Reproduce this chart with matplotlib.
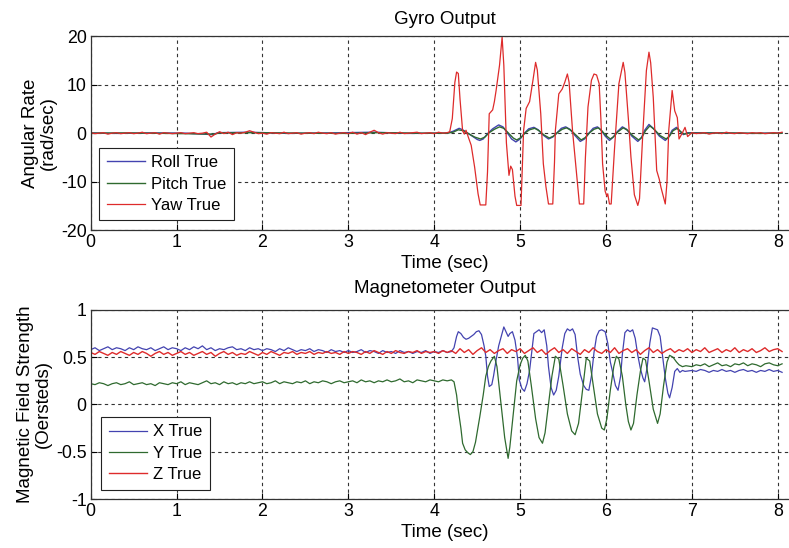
import numpy as np
import matplotlib
matplotlib.use("Agg")
import matplotlib.pyplot as plt

plt.rcParams['font.family'] = ['Liberation Sans', 'DejaVu Sans']
plt.rcParams['font.size'] = 13

# ── sample clocks for the quiet stretches (0.05 s spacing) ───────────────────
t_still = np.linspace(0.0, 4.15, 84)
t_settled = np.linspace(7.0, 8.05, 22)
t_full = np.linspace(0.0, 8.05, 162)

# ── gyro: yaw rate (rad/sec) ─────────────────────────────────────────────────
yaw_still = [
    0.1, -0.1, 0.0, 0.1, -0.2, 0.0, 0.1, -0.1, 0.0, 0.1, -0.1, 0.0, 0.2, -0.1, 0.0, 0.1, -0.2, 0.1, 0.0, -0.1,
    0.0, 0.1, -0.1, 0.0, 0.1, -0.1, 0.0, 0.2, -0.8, -0.2, 0.3, -0.1, 0.2, -0.3, 0.1, 0.0, 0.2, 0.5, 0.2, -0.1,
    0.0, -0.2, 0.1, 0.0, -0.1, 0.2, -0.1, 0.0, 0.1, -0.2, 0.0, 0.1, -0.1, 0.2, 0.0, -0.1, 0.1, -0.2, 0.0, 0.1,
    -0.1, 0.2, -0.2, 0.1, -0.3, 0.2, 0.6, 0.1, -0.2, 0.1, 0.0, -0.1, 0.2, -0.1, 0.0, 0.1, 0.2, -0.1, 0.0, 0.1,
    -0.1, 0.2, 0.0, 0.1,
]
yaw_move = [
    (4.18, 0.3), (4.21, 3.0), (4.24, 10.5), (4.26, 12.6), (4.28, 12.3), (4.30, 7.0), (4.33, 0.5),
    (4.35, -0.2), (4.37, 0.6), (4.40, -1.0), (4.43, -2.5), (4.47, -7.0), (4.51, -12.5), (4.535, -14.8),
    (4.60, -14.8), (4.62, -8.0), (4.64, 4.0), (4.68, 4.8), (4.70, 6.5), (4.72, 8.8), (4.76, 14.0),
    (4.79, 19.8), (4.81, 14.0), (4.84, -2.0), (4.87, -8.7), (4.89, -6.8), (4.91, -7.5), (4.94, -13.0),
    (4.96, -14.9), (5.01, -14.9), (5.03, -5.0), (5.04, 0.5), (5.07, 5.1), (5.11, 6.5), (5.15, 11.0),
    (5.18, 14.6), (5.20, 13.0), (5.24, 4.0), (5.27, -6.3), (5.30, -11.0), (5.33, -14.6), (5.38, -14.6),
    (5.40, -6.0), (5.41, 0.5), (5.45, 8.1), (5.49, 9.1), (5.52, 10.5), (5.55, 12.2), (5.57, 10.5),
    (5.61, 0.5), (5.65, -7.0), (5.69, -14.6), (5.74, -14.6), (5.76, -5.0), (5.79, 5.4), (5.83, 10.9),
    (5.86, 12.2), (5.89, 12.0), (5.92, 10.2), (5.94, 3.0), (5.96, -6.3), (5.99, -12.0), (6.01, -13.0),
    (6.02, -12.5), (6.04, -14.6), (6.06, -14.6), (6.10, -2.9), (6.15, 10.2), (6.20, 14.6), (6.22, 12.5),
    (6.26, 3.0), (6.29, -4.9), (6.33, -12.7), (6.37, -14.9), (6.39, -13.5), (6.43, 0.5), (6.47, 12.9),
    (6.50, 16.7), (6.52, 14.5), (6.55, 7.4), (6.59, -7.7), (6.62, -9.5), (6.64, -11.2), (6.69, -14.6),
    (6.71, -10.0), (6.73, 0.5), (6.77, 8.8), (6.80, 4.6), (6.83, 3.2), (6.85, -1.2), (6.89, 0.1),
    (6.92, 1.2), (6.95, -0.7),
]
yaw_settled = [
    0.1, -0.1, 0.0, 0.1, -0.2, 0.0, 0.1, -0.1, 0.2, 0.0, -0.1, 0.1, 0.0, -0.1, 0.1, 0.0, 0.1, -0.1, 0.0, 0.1,
    0.0, 0.2,
]

# ── gyro: roll / pitch rate (rad/sec) ────────────────────────────────────────
roll_pts = [
    (0.0, 0.05), (0.3, -0.05), (0.7, 0.05), (1.1, 0.0), (1.42, -0.3), (1.48, 0.1), (1.85, 0.2),
    (2.3, -0.05), (2.8, 0.05), (3.3, 0.2), (3.7, -0.05), (4.15, 0.0),
    (4.22, 0.4), (4.29, 1.0), (4.33, 0.7), (4.38, 0.1), (4.45, -0.7), (4.50, -1.3), (4.53, -1.5),
    (4.57, -1.2), (4.62, -0.1), (4.68, 0.9), (4.75, 1.7), (4.80, 1.3), (4.85, 0.1), (4.90, -1.2),
    (4.95, -1.8), (5.00, -1.2), (5.05, 0.0), (5.10, 0.9), (5.16, 1.2), (5.21, 0.7), (5.26, -0.3),
    (5.33, -1.2), (5.38, -0.8), (5.43, 0.1), (5.48, 1.0), (5.53, 1.3), (5.58, 0.8), (5.63, -0.3),
    (5.70, -1.7), (5.75, -1.2), (5.80, 0.0), (5.85, 1.0), (5.90, 1.3), (5.94, 0.7), (5.99, -0.6),
    (6.04, -1.5), (6.08, -0.9), (6.13, 0.3), (6.19, 1.3), (6.24, 0.8), (6.30, -0.6), (6.37, -1.7),
    (6.41, -1.0), (6.45, 0.6), (6.50, 1.8), (6.55, 1.0), (6.62, -0.6), (6.69, -1.5), (6.73, -0.8),
    (6.77, 0.6), (6.82, 1.2), (6.86, 0.4), (6.90, -0.3), (6.95, 0.1),
    (7.3, 0.05), (7.7, -0.05), (8.05, 0.05),
]
pitch_pts = [
    (0.0, 0.0), (0.4, 0.05), (0.9, -0.05), (1.44, -0.2), (1.5, 0.05), (1.9, 0.1), (2.5, 0.0),
    (3.0, -0.05), (3.35, 0.1), (3.8, 0.0), (4.15, 0.0),
    (4.22, 0.2), (4.28, 0.7), (4.34, 0.5), (4.40, -0.1), (4.47, -0.8), (4.54, -1.2), (4.59, -0.8),
    (4.64, 0.1), (4.70, 0.8), (4.76, 1.3), (4.81, 1.0), (4.87, -0.1), (4.92, -1.0), (4.96, -1.4),
    (5.01, -0.9), (5.06, 0.1), (5.11, 0.7), (5.17, 1.0), (5.22, 0.5), (5.28, -0.4), (5.34, -1.0),
    (5.39, -0.6), (5.44, 0.2), (5.49, 0.8), (5.54, 1.1), (5.59, 0.6), (5.65, -0.4), (5.71, -1.4),
    (5.76, -0.9), (5.81, 0.1), (5.86, 0.8), (5.91, 1.1), (5.95, 0.5), (6.00, -0.5), (6.05, -1.2),
    (6.09, -0.7), (6.14, 0.3), (6.20, 1.1), (6.25, 0.6), (6.31, -0.5), (6.38, -1.4), (6.42, -0.8),
    (6.46, 0.5), (6.51, 1.5), (6.56, 0.8), (6.63, -0.5), (6.70, -1.2), (6.74, -0.6), (6.78, 0.5),
    (6.83, 1.0), (6.87, 0.3), (6.91, -0.2), (6.96, 0.0),
    (7.4, 0.05), (7.8, -0.05), (8.05, 0.0),
]

# ── magnetometer X (Oersteds) ────────────────────────────────────────────────
magx_still = [
    0.58, 0.60, 0.57, 0.59, 0.61, 0.58, 0.60, 0.59, 0.57, 0.60, 0.58, 0.61, 0.59, 0.58, 0.60, 0.57, 0.59, 0.61, 0.58, 0.60,
    0.59, 0.57, 0.60, 0.58, 0.61, 0.59, 0.62, 0.58, 0.60, 0.57, 0.59, 0.58, 0.60, 0.61, 0.58, 0.59, 0.57, 0.60, 0.58, 0.59,
    0.57, 0.59, 0.58, 0.56, 0.59, 0.57, 0.60, 0.58, 0.56, 0.58, 0.57, 0.59, 0.56, 0.58, 0.57, 0.55, 0.58, 0.56, 0.57, 0.55,
    0.57, 0.55, 0.56, 0.58, 0.55, 0.57, 0.56, 0.54, 0.57, 0.55, 0.56, 0.54, 0.57, 0.55, 0.56, 0.54, 0.56, 0.55, 0.57, 0.54,
    0.56, 0.55, 0.57, 0.55,
]
magx_move = [
    (4.20, 0.56), (4.23, 0.60), (4.26, 0.72), (4.28, 0.77), (4.31, 0.75), (4.34, 0.71), (4.37, 0.69),
    (4.40, 0.70), (4.43, 0.72), (4.46, 0.74), (4.49, 0.77), (4.52, 0.78), (4.55, 0.74), (4.58, 0.62),
    (4.60, 0.51), (4.62, 0.30), (4.64, 0.19), (4.67, 0.21), (4.69, 0.30), (4.72, 0.47), (4.75, 0.62),
    (4.78, 0.72), (4.81, 0.82), (4.83, 0.78), (4.86, 0.72), (4.88, 0.75), (4.91, 0.77), (4.94, 0.68),
    (4.97, 0.49), (4.99, 0.26), (5.02, 0.17), (5.05, 0.14), (5.08, 0.22), (5.11, 0.36), (5.14, 0.60),
    (5.16, 0.75), (5.19, 0.77), (5.22, 0.79), (5.25, 0.76), (5.28, 0.79), (5.31, 0.62), (5.33, 0.40),
    (5.36, 0.18), (5.39, 0.10), (5.42, 0.15), (5.45, 0.30), (5.49, 0.60), (5.52, 0.75), (5.55, 0.80),
    (5.58, 0.78), (5.61, 0.80), (5.64, 0.74), (5.67, 0.50), (5.70, 0.32), (5.74, 0.20), (5.77, 0.16),
    (5.80, 0.15), (5.83, 0.30), (5.86, 0.55), (5.89, 0.72), (5.92, 0.78), (5.95, 0.79), (5.99, 0.77),
    (6.02, 0.65), (6.05, 0.45), (6.08, 0.33), (6.11, 0.20), (6.14, 0.15), (6.17, 0.30), (6.19, 0.53),
    (6.22, 0.76), (6.25, 0.79), (6.28, 0.77), (6.31, 0.79), (6.34, 0.70), (6.37, 0.52), (6.40, 0.38),
    (6.43, 0.28), (6.45, 0.24), (6.48, 0.40), (6.51, 0.65), (6.54, 0.81), (6.57, 0.80), (6.60, 0.79),
    (6.63, 0.72), (6.66, 0.50), (6.69, 0.28), (6.72, 0.12), (6.74, 0.07), (6.77, 0.18), (6.80, 0.35),
    (6.83, 0.38), (6.86, 0.34), (6.89, 0.36), (6.92, 0.35),
]
magx_settled = [
    0.36, 0.35, 0.37, 0.36, 0.34, 0.36, 0.35, 0.37, 0.35, 0.36, 0.34, 0.36, 0.37, 0.35, 0.36, 0.34, 0.36, 0.35, 0.37, 0.35,
    0.36, 0.34,
]

# ── magnetometer Y (Oersteds) ────────────────────────────────────────────────
magy_still = [
    0.22, 0.21, 0.23, 0.22, 0.20, 0.22, 0.23, 0.21, 0.22, 0.24, 0.21, 0.22, 0.23, 0.21, 0.22, 0.20, 0.23, 0.22, 0.21, 0.23,
    0.22, 0.24, 0.21, 0.23, 0.22, 0.21, 0.23, 0.25, 0.22, 0.23, 0.21, 0.24, 0.22, 0.23, 0.21, 0.23, 0.22, 0.24, 0.22, 0.23,
    0.24, 0.22, 0.23, 0.25, 0.22, 0.24, 0.23, 0.22, 0.24, 0.23, 0.25, 0.22, 0.24, 0.23, 0.25, 0.24, 0.22, 0.24, 0.25, 0.23,
    0.24, 0.25, 0.23, 0.26, 0.24, 0.25, 0.23, 0.25, 0.24, 0.26, 0.24, 0.25, 0.27, 0.24, 0.25, 0.23, 0.26, 0.25, 0.24, 0.26,
    0.25, 0.24, 0.26, 0.25,
]
magy_move = [
    (4.20, 0.26), (4.23, 0.24), (4.26, 0.10), (4.28, -0.06), (4.31, -0.25), (4.33, -0.41), (4.36, -0.48),
    (4.39, -0.51), (4.42, -0.53), (4.45, -0.50), (4.48, -0.40), (4.53, -0.13), (4.57, 0.10), (4.60, 0.30),
    (4.63, 0.40), (4.66, 0.46), (4.70, 0.51), (4.73, 0.40), (4.76, 0.15), (4.78, -0.02), (4.82, -0.35),
    (4.86, -0.57), (4.88, -0.45), (4.92, -0.10), (4.96, 0.25), (5.00, 0.42), (5.03, 0.49), (5.06, 0.52),
    (5.09, 0.46), (5.13, 0.20), (5.18, -0.15), (5.22, -0.35), (5.26, -0.41), (5.29, -0.30), (5.33, 0.00),
    (5.37, 0.30), (5.41, 0.51), (5.45, 0.48), (5.50, 0.20), (5.55, -0.10), (5.60, -0.28), (5.64, -0.32),
    (5.68, -0.20), (5.72, 0.10), (5.77, 0.49), (5.81, 0.46), (5.86, 0.15), (5.90, -0.10), (5.95, -0.25),
    (5.98, -0.27), (6.01, -0.15), (6.05, 0.15), (6.09, 0.40), (6.12, 0.51), (6.15, 0.48), (6.19, 0.30),
    (6.23, 0.00), (6.26, -0.18), (6.29, -0.27), (6.32, -0.20), (6.36, 0.10), (6.40, 0.35), (6.43, 0.49),
    (6.46, 0.47), (6.50, 0.25), (6.55, -0.05), (6.60, -0.20), (6.63, -0.10), (6.67, 0.20), (6.71, 0.45),
    (6.74, 0.52), (6.78, 0.50), (6.82, 0.45), (6.85, 0.42), (6.89, 0.40), (6.93, 0.41),
]
magy_settled = [
    0.40, 0.42, 0.41, 0.43, 0.40, 0.42, 0.44, 0.41, 0.42, 0.40, 0.43, 0.42, 0.44, 0.41, 0.43, 0.42, 0.40, 0.43, 0.44, 0.42,
    0.41, 0.43,
]

# ── magnetometer Z (Oersteds), one value per 0.05 s over the whole run ──────
magz = [
    0.55, 0.53, 0.56, 0.54, 0.52, 0.55, 0.53, 0.56, 0.54, 0.52, 0.55, 0.53, 0.56, 0.54, 0.51, 0.54, 0.56, 0.53, 0.55, 0.52,
    0.54, 0.56, 0.53, 0.55, 0.52, 0.54, 0.56, 0.53, 0.55, 0.51, 0.54, 0.56, 0.53, 0.55, 0.52, 0.54, 0.53, 0.56, 0.54, 0.52,
    0.55, 0.53, 0.56, 0.54, 0.52, 0.55, 0.54, 0.56, 0.53, 0.55, 0.54, 0.56, 0.53, 0.55, 0.54, 0.56, 0.54, 0.55, 0.53, 0.56,
    0.54, 0.56, 0.55, 0.53, 0.56, 0.54, 0.57, 0.55, 0.53, 0.56, 0.54, 0.57, 0.55, 0.54, 0.56, 0.55, 0.57, 0.54, 0.56, 0.55,
    0.56, 0.54, 0.57, 0.55,
    0.57, 0.54, 0.59, 0.55, 0.58, 0.53, 0.57, 0.60, 0.55, 0.58, 0.54, 0.57, 0.59, 0.54, 0.58, 0.56,
    0.59, 0.54, 0.57, 0.60, 0.55, 0.58, 0.53, 0.57, 0.60, 0.55, 0.58, 0.54, 0.59, 0.56, 0.53, 0.58, 0.55, 0.60, 0.56, 0.54,
    0.58, 0.55, 0.60, 0.54, 0.57, 0.59, 0.55, 0.58, 0.53, 0.57, 0.60, 0.55, 0.58, 0.54, 0.57, 0.59, 0.55, 0.58, 0.56, 0.59,
    0.55, 0.58, 0.56, 0.60, 0.55, 0.57, 0.59, 0.55, 0.58, 0.56, 0.60, 0.55, 0.58, 0.56, 0.59, 0.55, 0.57, 0.60, 0.56, 0.58,
    0.59, 0.56,
]

x_ticks = [0, 1, 2, 3, 4, 5, 6, 7, 8]
gyro_ticks = [-20, -10, 0, 10, 20]
mag_ticks = [-1, -0.5, 0, 0.5, 1]

C_BLUE = "#4343b0"
C_GREEN = "#2f6a2f"
C_RED = "#de2b2b"

TICK_FS = 12.8
LABEL_FS = 13.5
LEGEND_FS = 12


def join(still, move, settled):
    mt, mv = np.array(move).T
    t = np.concatenate([t_still, mt, t_settled])
    v = np.concatenate([still, mv, settled])
    return t, v


def style_axes(ax, yticks, ylim):
    ax.set_xlim(0, 8.25)
    ax.set_ylim(*ylim)
    ax.set_xticks(x_ticks)
    ax.set_yticks(yticks)
    ax.tick_params(direction="in", length=4, width=0.8, pad=3, labelsize=TICK_FS)
    ax.grid(True, color="#333333", linestyle=(0, (3, 3)), linewidth=0.8)
    for sp in ax.spines.values():
        sp.set_color("#333333")
        sp.set_linewidth(0.9)
    ax.set_xlabel("Time (sec)", fontsize=LABEL_FS, labelpad=3)


def add_legend(ax, x0):
    leg = ax.legend(loc="lower left", bbox_to_anchor=(x0, 0.05), borderaxespad=0,
                    fancybox=False, edgecolor="#222222", framealpha=1, handlelength=2.3,
                    handletextpad=0.35, labelspacing=0.38, borderpad=0.45, fontsize=LEGEND_FS)
    leg.get_frame().set_linewidth(0.8)
    return leg


fig = plt.figure(figsize=(7.89, 5.48), dpi=100)
AX_LEFT, AX_W = 0.115, 0.898

# ── gyro panel ───────────────────────────────────────────────────────────────
ax1 = fig.add_axes([AX_LEFT, 0.580, AX_W, 0.354])
rt, rv = np.array(roll_pts).T
pt, pv = np.array(pitch_pts).T
yt, yv = join(yaw_still, yaw_move, yaw_settled)
ax1.plot(rt, rv, color=C_BLUE, lw=1.0, label="Roll True")
ax1.plot(pt, pv, color=C_GREEN, lw=1.0, label="Pitch True")
ax1.plot(yt, yv, color=C_RED, lw=0.9, label="Yaw True")
style_axes(ax1, gyro_ticks, (-20, 20))
ax1.set_yticklabels([str(v) for v in gyro_ticks])
ax1.set_ylabel("Angular Rate\n(rad/sec)", fontsize=LABEL_FS, labelpad=3, linespacing=1.05)
ax1.set_title("Gyro Output", fontsize=LABEL_FS, pad=9)
add_legend(ax1, 0.012)

# ── magnetometer panel ───────────────────────────────────────────────────────
ax2 = fig.add_axes([AX_LEFT, 0.0894, AX_W, 0.345])
xt, xv = join(magx_still, magx_move, magx_settled)
gt, gv = join(magy_still, magy_move, magy_settled)
ax2.plot(xt, xv, color=C_BLUE, lw=0.9, label="X True")
ax2.plot(gt, gv, color=C_GREEN, lw=0.9, label="Y True")
ax2.plot(t_full, magz, color=C_RED, lw=1.0, label="Z True")
style_axes(ax2, mag_ticks, (-1, 1))
ax2.set_yticklabels(["-1", "-0.5", "0", "0.5", "1"])
ax2.set_ylabel("Magnetic Field Strength\n(Oersteds)", fontsize=LABEL_FS, labelpad=3, linespacing=1.05)
ax2.set_title("Magnetometer Output", fontsize=LABEL_FS, pad=12)
add_legend(ax2, 0.015)

fig.savefig("out.png", dpi=100)
plt.close(fig)
